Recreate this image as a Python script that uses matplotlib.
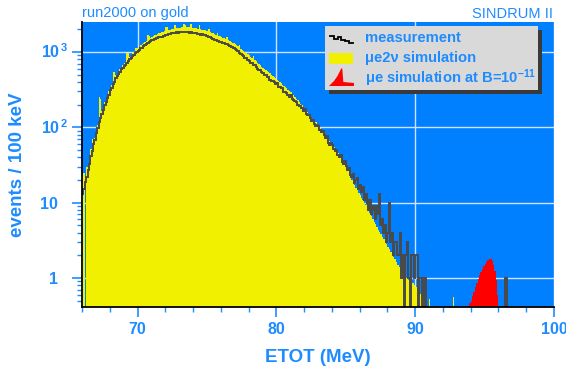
import numpy as np
import matplotlib
matplotlib.use('Agg')
import matplotlib.pyplot as plt
from matplotlib.ticker import FixedLocator, MultipleLocator, LogLocator, NullFormatter, FixedFormatter
from matplotlib.transforms import ScaledTranslation
from matplotlib.patches import Rectangle, Polygon

plt.rcParams['font.family'] = ['Liberation Sans', 'DejaVu Sans']
plt.rcParams['mathtext.fontset'] = 'custom'
plt.rcParams['mathtext.rm'] = 'Liberation Sans'
plt.rcParams['mathtext.bf'] = 'Liberation Sans:bold'
plt.rcParams['mathtext.it'] = 'Liberation Sans:italic'

# ---------------- data (events per 100 keV bin) ----------------
bin_width = 0.1
meas_start = 66.0
measurement = [
    13, 15, 19, 22, 27, 33, 41, 48, 60, 68,
    84, 97, 118, 133, 152, 168, 197, 216, 247, 272,
    312, 336, 375, 403, 450, 475, 517, 546, 593, 612,
    650, 671, 713, 752, 800, 826, 877, 905, 960, 995,
    1040, 1052, 1115, 1132, 1210, 1232, 1295, 1310, 1372, 1388,
    1436, 1452, 1503, 1512, 1556, 1562, 1593, 1602, 1650, 1652,
    1688, 1692, 1727, 1731, 1767, 1762, 1795, 1792, 1820, 1812,
    1837, 1824, 1846, 1829, 1846, 1827, 1837, 1813, 1820, 1792,
    1795, 1764, 1767, 1734, 1735, 1704, 1707, 1672, 1668, 1625,
    1611, 1569, 1557, 1516, 1504, 1463, 1452, 1413, 1403, 1365,
    1356, 1319, 1310, 1275, 1266, 1224, 1208, 1169, 1154, 1116,
    1102, 1050, 1024, 975, 952, 906, 885, 842, 822, 782,
    764, 722, 714, 668, 665, 640, 598, 578, 580, 536,
    534, 498, 489, 470, 466, 430, 418, 412, 396, 374,
    382, 348, 340, 332, 330, 298, 292, 286, 270, 256,
    266, 236, 230, 226, 214, 198, 192, 190, 178, 165,
    174, 151, 146, 144, 131, 123, 126, 110, 104, 106,
    104, 92, 86, 88, 79, 73, 76, 62, 58, 61,
    59, 52, 48, 50, 43, 40, 43, 35, 33, 36,
    31, 27, 29, 23, 22, 24, 18, 20, 21, 15,
    17, 14, 16, 11, 13, 10, 8, 11, 7, 9,
    8, 6, 9, 7, 13, 5, 6, 4, 5, 3,
    4, 10, 3, 4, 2, 3, 3, 2, 2, 4,
    1, 2, 0, 2, 3, 1, 0, 2, 2, 1,
    2, 2, 0, 1, 1, 0, 1, 1, 0, 0,
    0, 0, 0, 0, 0, 0, 0, 0, 0, 0,
    0, 0, 0, 0, 0, 0, 0, 0, 0, 0,
    0, 0, 0, 0, 0, 0, 0, 0, 0, 0,
    0, 0, 0, 0, 0, 0, 0, 0, 0, 0,
    0, 0, 0, 0, 0, 0, 0, 0, 0, 0,
    0, 0, 0, 0, 0, 1, 0, 0, 0, 0,
]

sim_start = 66.0
simulation = [
    22, 25, 0, 30, 33, 37, 52, 70, 62, 72,
    90, 108, 250, 240, 165, 180, 215, 236, 265, 300,
    340, 370, 545, 540, 490, 520, 560, 600, 640, 680,
    710, 740, 975, 960, 870, 910, 960, 1000, 1130, 1120,
    1150, 1170, 1230, 1260, 1330, 1370, 1420, 1687, 1650, 1540,
    1600, 1630, 1680, 1700, 1740, 1760, 1780, 1820, 1860, 1880,
    2150, 2120, 1960, 1980, 2000, 2020, 2280, 2300, 2080, 2100,
    2110, 2120, 2130, 2350, 2300, 2140, 2130, 2120, 2320, 2100,
    2090, 2070, 2050, 2030, 2250, 2000, 1970, 1950, 1930, 1900,
    1880, 2000, 1820, 1790, 1760, 1730, 1700, 1800, 1640, 1610,
    1580, 1550, 1520, 1490, 1560, 1430, 1400, 1360, 1330, 1300,
    1270, 1230, 1190, 1240, 1110, 1070, 1030, 1000, 970, 940,
    900, 870, 840, 890, 780, 750, 720, 700, 670, 640,
    620, 600, 580, 560, 540, 520, 500, 480, 470, 450,
    430, 415, 400, 385, 370, 356, 342, 328, 315, 300,
    290, 278, 265, 252, 240, 228, 218, 207, 197, 187,
    178, 169, 160, 152, 144, 136, 129, 122, 116, 110,
    104, 98, 93, 88, 83, 78, 73, 69, 65, 61,
    57, 54, 51, 48, 45, 42, 39, 37, 35, 32,
    28, 26, 24, 22, 20, 18.5, 17, 15.5, 14.5, 13.5,
    12.5, 11.5, 10.8, 10, 9.3, 8.5, 7.8, 7.2, 6.6, 6.1,
    5.6, 5.2, 4.8, 4.4, 4.1, 3.8, 3.5, 3.3, 3.0, 2.8,
    2.6, 2.4, 2.2, 2.05, 1.9, 1.8, 1.65, 1.5, 1.4, 1.3,
    1.2, 1.1, 1.05, 1.0, 0.98, 0.95, 0.9, 0.88, 0.86, 0.8,
    0.75, 0.7, 0.68, 0.62, 0.58, 0.55, 0.5, 0.45, 0, 0,
    0.52, 0, 0, 0, 0, 0, 0, 0, 0, 0,
    0, 0, 0, 0, 0, 0, 0, 0.56, 0, 0,
]

signal_start = 93.8
signal = [0.42, 0.46, 0.5, 0.58, 0.66, 0.76, 0.86, 0.97, 1.08, 1.2,
          1.32, 1.44, 1.55, 1.65, 1.74, 1.79, 1.79, 1.7, 1.5, 1.25,
          0.95, 0.6, 0.3]

x_ticks = [70, 80, 90, 100]
x_tick_labels = ['70', '80', '90', '100']
y_ticks = [1, 10, 100, 1000]
y_tick_labels = ['1', '10', r'$\mathbf{10}^{\,\mathbf{2}}$', r'$\mathbf{10}^{\,\mathbf{3}}$']

legend_labels = ['measurement', '\u03bce2\u03bd simulation',
                 '\u03bce simulation at B=10$^{\\mathbf{-11}}$']

# ---------------- styling ----------------
BLUE_BG = '#0080FF'
TXT = '#1E8CFF'
YELLOW = '#F0F000'
W, H = 566, 374

fig = plt.figure(figsize=(W / 100, H / 100), dpi=100)
fig.patch.set_facecolor('white')
ax = fig.add_axes([82 / W, (H - 307) / H, 472 / W, 285 / H])
ax.set_facecolor(BLUE_BG)
ax.set_yscale('log')
ax.set_xlim(66.0, 100.0)
ax.set_ylim(0.412, 2500)

meas = np.asarray(measurement, float)
sim = np.asarray(simulation, float)
sig = np.asarray(signal, float)
meas_edges = meas_start + bin_width * np.arange(len(meas) + 1)
sim_edges = sim_start + bin_width * np.arange(len(sim) + 1)
sig_edges = signal_start + bin_width * np.arange(len(sig) + 1)

ax.stairs(np.where(sim > 0, sim, 1e-3), sim_edges, fill=True, baseline=1e-3,
          facecolor=YELLOW, edgecolor='none', linewidth=0, zorder=2)
ax.stairs(np.where(sig > 0, sig, 1e-3), sig_edges, fill=True, baseline=1e-3,
          facecolor='#FF0000', edgecolor='none', linewidth=0, zorder=2.5)
ax.stairs(np.where(meas > 0, meas, 1e-3), meas_edges, baseline=None,
          color='#4A4A4A', linewidth=1.4, zorder=3)

ax.grid(True, which='major', color='#CFE3FF', linewidth=1.0)
ax.set_axisbelow(True)

for s in ['top', 'right']:
    ax.spines[s].set_visible(False)
for s in ['left', 'bottom']:
    ax.spines[s].set_color('black')
    ax.spines[s].set_linewidth(1.3)
    ax.spines[s].set_zorder(4)

ax.xaxis.set_major_locator(FixedLocator(x_ticks))
ax.xaxis.set_major_formatter(FixedFormatter(x_tick_labels))
ax.xaxis.set_minor_locator(MultipleLocator(2))
ax.yaxis.set_major_locator(FixedLocator(y_ticks))
ax.yaxis.set_major_formatter(FixedFormatter(y_tick_labels))
ax.yaxis.set_minor_locator(LogLocator(base=10, subs=np.arange(2, 10), numticks=50))
ax.yaxis.set_minor_formatter(NullFormatter())

ax.tick_params(axis='both', which='major', direction='out', length=7.2, width=1.2,
               color=TXT, labelcolor=TXT, labelsize=11.5)
ax.tick_params(axis='both', which='minor', direction='out', length=3.6, width=1.0, color=TXT)
ax.tick_params(axis='x', which='major', pad=3.5)
ax.tick_params(axis='y', which='major', pad=10)
for lab in ax.get_xticklabels() + ax.get_yticklabels():
    lab.set_fontweight('bold')

# superscript labels: keep "10" aligned with the plain labels
for tick in ax.yaxis.get_major_ticks()[2:]:
    tick.label1.set_transform(tick.label1.get_transform() +
                              ScaledTranslation(0.10, 0.015, fig.dpi_scale_trans))

ax.set_xlabel('ETOT (MeV)', fontsize=13.5, fontweight='bold', color=TXT)
ax.xaxis.set_label_coords(0.5, -0.148)
ax.set_ylabel('events / 100 keV', fontsize=13.5, fontweight='bold', color=TXT)
ax.yaxis.set_label_coords(-0.118, 0.5)

fig.text(82 / W, 1 - 17 / H, 'run2000 on gold', fontsize=10.5, color=TXT,
         ha='left', va='baseline')
fig.text(553 / W, 1 - 17.5 / H, 'SINDRUM II', fontsize=10.5, color=TXT,
         ha='right', va='baseline')

# ---------------- legend box with shadow ----------------
shadow = Rectangle((329 / W, (H - 94) / H), 213 / W, 64 / H, transform=fig.transFigure,
                   facecolor='#3A3A3A', edgecolor='none', zorder=1)
fig.add_artist(shadow)
lax = fig.add_axes([325 / W, (H - 90) / H, 213 / W, 64 / H])
lax.set_zorder(2)
lax.set_facecolor('#D9D9D9')
lax.set_xlim(0, 213)
lax.set_ylim(64, 0)
lax.set_xticks([])
lax.set_yticks([])
for s in lax.spines.values():
    s.set_visible(False)

# handle glyphs
lax.plot([5, 9, 9, 13, 13, 16, 16, 20, 20, 24, 24, 28],
         [10, 10, 12.5, 12.5, 11, 11, 14, 14, 15, 15, 16.5, 16.5],
         color='black', linewidth=1.3, solid_joinstyle='miter')
lax.add_patch(Rectangle((4, 27), 24, 11, facecolor=YELLOW, edgecolor='none'))
lax.add_patch(Polygon([(4, 60), (9, 55), (12.5, 50), (15, 45), (16.3, 42.3),
                       (17.3, 42.8), (18.3, 56), (29, 57), (29, 60)],
                      closed=True, facecolor='#FF0000', edgecolor='none'))
rows = [11.5, 32, 52]
for lbl, yy in zip(legend_labels, rows):
    lax.text(40, yy, lbl, fontsize=10.6, fontweight='bold', color=TXT,
             ha='left', va='center')

fig.savefig('out.png', dpi=100, facecolor='white')
